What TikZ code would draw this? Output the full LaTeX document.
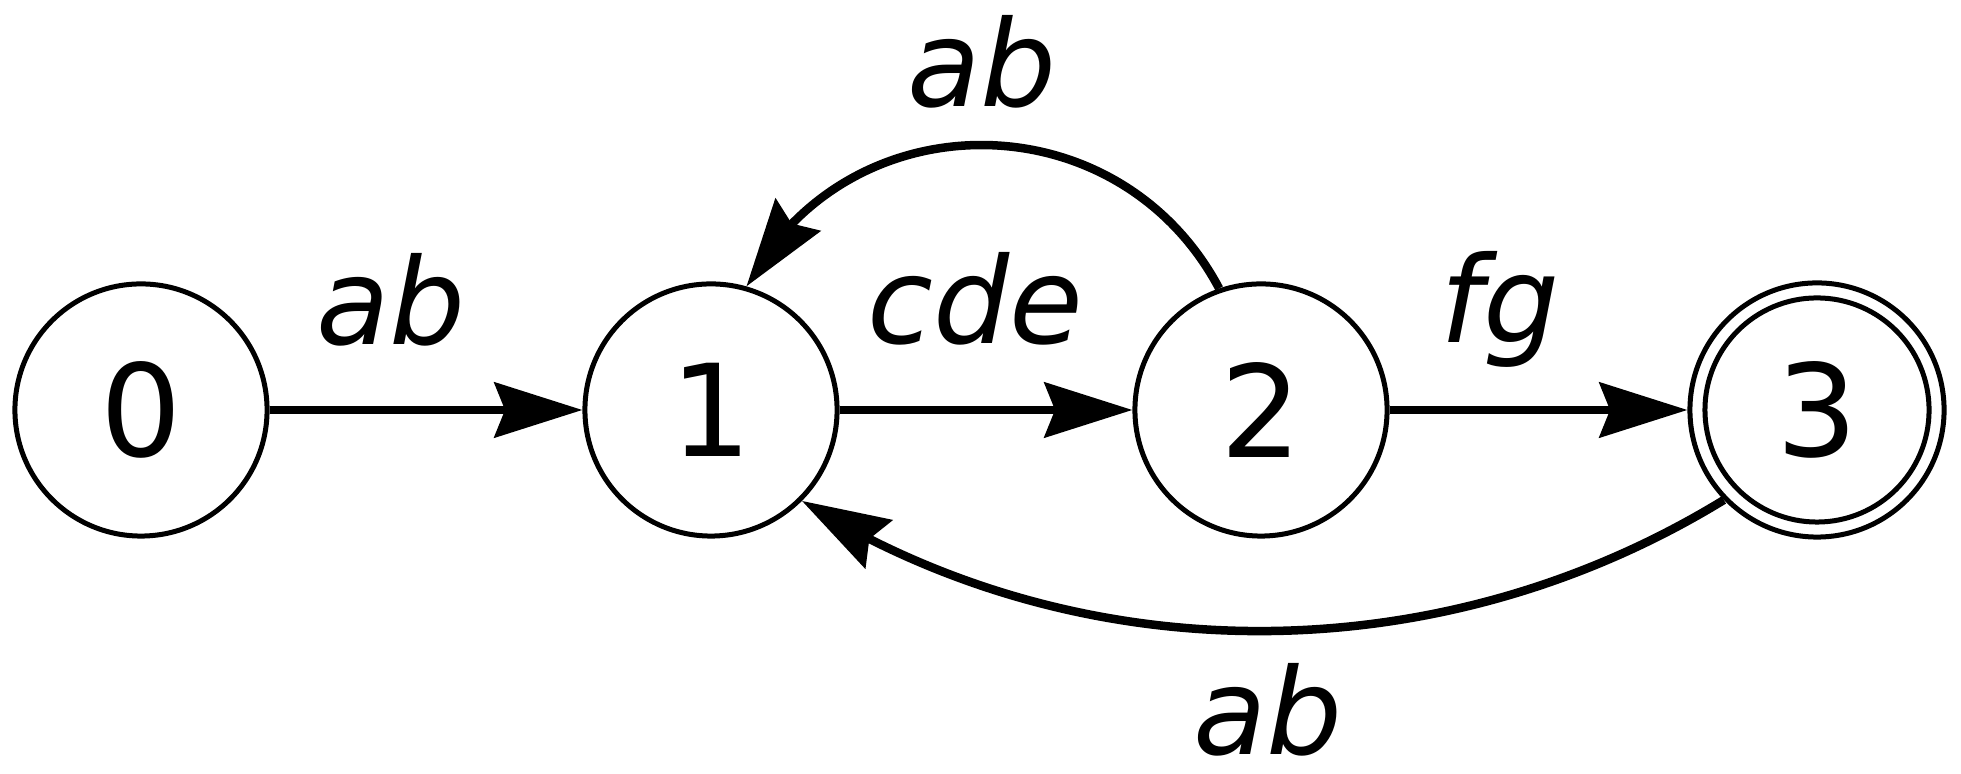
\documentclass[tikz,border=0pt]{standalone}
\usepackage{fontspec}
\setmainfont{DejaVu Sans}
\usetikzlibrary{arrows.meta,bending}
\begin{document}
\begin{tikzpicture}[x=0.01cm,y=0.01cm,
  state/.style={circle, draw, line width=0.05cm, minimum size=2.52cm, inner sep=0pt,
    font=\fontsize{36.4pt}{40pt}\selectfont},
  innerring/.style={circle, draw, line width=0.05cm, minimum size=2.24cm, inner sep=0pt},
  edge/.style={line width=0.085cm, -{Stealth[length=25pt, width=15.6pt, inset=3pt]}},
  lbl/.style={anchor=base, inner sep=0pt, font=\fontsize{34.1pt}{38pt}\selectfont\itshape}]
\useasboundingbox (0,0) rectangle (1961,774);
\node[state] (n0) at (141,364) {0};
\node[state] (n1) at (711,364) {1};
\node[state] (n2) at (1261,364) {2};
\node[state, minimum size=2.54cm] (n3) at (1817,364) {3};
\node[innerring] (n3in) at (n3.center) {};
\draw[edge] (n0) -- (n1);
\draw[edge] (n1) -- (n2);
\draw[edge] (n2) -- (n3);
\draw[edge] (n2.109) .. controls +(118:215) and +(62:215) .. (n1.74);
\draw[edge] (n3.224) .. controls +(211.5:331) and +(-32:331) .. (n1.-45);
\node[lbl] (l01) at (391,429) {ab};
\node[lbl] (l12) at (975,430) {cde};
\node[lbl] (l23) at (1500,431) {fg};
\node[lbl] (l21) at (982,667) {ab};
\node[lbl] (l31) at (1268,19) {ab};
\end{tikzpicture}
\end{document}
